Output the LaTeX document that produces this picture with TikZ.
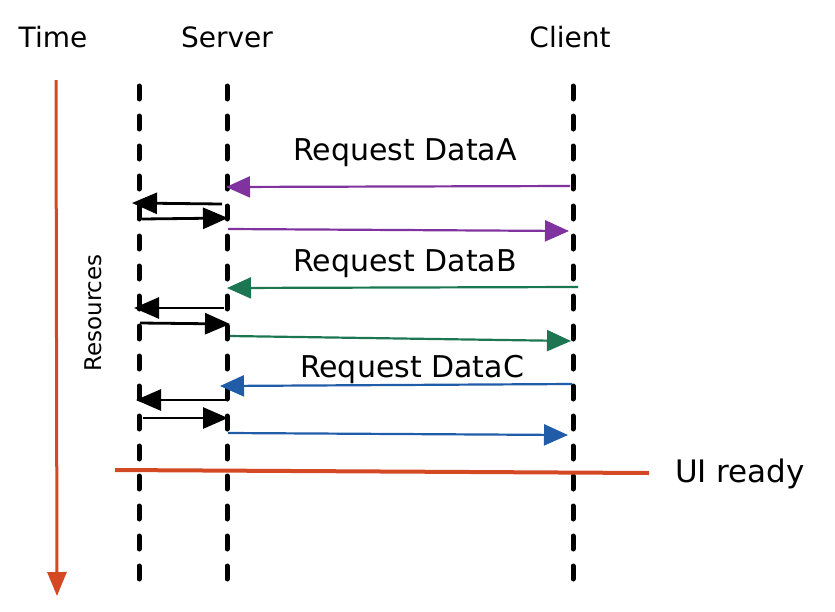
\documentclass[tikz,border=0pt]{standalone}
\usepackage{fontspec}
\setmainfont{DejaVu Sans}
\usetikzlibrary{arrows.meta}
\definecolor{cpurple}{RGB}{128,50,158}
\definecolor{cgreen}{RGB}{28,118,82}
\definecolor{cblue}{RGB}{32,92,168}
\definecolor{cred}{RGB}{212,72,36}
\tikzset{
  lbl/.style={font=\fontsize{28}{32}\selectfont, inner sep=0pt},
  rlbl/.style={font=\fontsize{30}{34}\selectfont, inner sep=0pt},
  life/.style={line width=5pt, line cap=round, dash pattern=on 13pt off 17pt},
  msg/.style={line width=2.2pt, -{Triangle[length=24pt,width=21pt]}},
  res/.style={line width=2.8pt, black, -{Triangle[length=25pt,width=21pt]}},
}
\begin{document}
\begin{tikzpicture}[x=1pt,y=-1pt]
\useasboundingbox (0,0) rectangle (835,611);
% labels
\node[lbl] (time) at (53,37) {Time};
\node[lbl] (server) at (227,37) {Server};
\node[lbl] (client) at (570,37) {Client};
\node[lbl, font=\fontsize{31}{34}\selectfont] (ui) at (740,474) {UI ready};
\node[lbl, font=\fontsize{23}{26}\selectfont, rotate=90] (resources) at (93,313) {Resources};
\node[rlbl] (la) at (405,153) {Request DataA};
\node[rlbl] (lb) at (405,264) {Request DataB};
\node[rlbl] (lc) at (412,369) {Request DataC};
% lifelines
\coordinate (r0) at (139,86); \coordinate (r1) at (139,584);
\coordinate (s0) at (227,86); \coordinate (s1) at (227,580);
\coordinate (c0) at (573,86); \coordinate (c1) at (573,584);
\draw[life] (r0) -- (r1);
\draw[life] (s0) -- (s1);
\draw[life] (c0) -- (c1);
% time arrow
\coordinate (t0) at (56,80); \coordinate (t1) at (57,596);
\draw[cred, line width=3pt, -{Triangle[length=24pt,width=19pt]}] (t0) -- (t1);
% UI ready line
\coordinate (u0) at (115,470); \coordinate (u1) at (649,473);
\draw[cred, line width=4pt] (u0) -- (u1);
% A
\coordinate (a1) at (570,186); \coordinate (a2) at (226,187);
\coordinate (a3) at (222,204); \coordinate (a4) at (132,203);
\coordinate (a5) at (142,219); \coordinate (a6) at (228,218);
\coordinate (a7) at (228,229); \coordinate (a8) at (569,231);
\draw[msg, cpurple] (a1) -- (a2);
\draw[res] (a3) -- (a4);
\draw[res] (a5) -- (a6);
\draw[msg, cpurple] (a7) -- (a8);
% B
\coordinate (b1) at (578,287); \coordinate (b2) at (227,288);
\coordinate (b3) at (224,308); \coordinate (b4) at (134,308);
\coordinate (b5) at (140,323); \coordinate (b6) at (230,324);
\coordinate (b7) at (230,336); \coordinate (b8) at (571,341);
\draw[msg, cgreen] (b1) -- (b2);
\draw[res] (b3) -- (b4);
\draw[res] (b5) -- (b6);
\draw[msg, cgreen] (b7) -- (b8);
% C
\coordinate (c2a) at (572,384); \coordinate (c2b) at (220,386);
\coordinate (c3) at (226,400); \coordinate (c4) at (136,400);
\coordinate (c5) at (143,418); \coordinate (c6) at (228,418);
\coordinate (c7) at (228,433); \coordinate (c8) at (568,435);
\draw[msg, cblue] (c2a) -- (c2b);
\draw[res] (c3) -- (c4);
\draw[res] (c5) -- (c6);
\draw[msg, cblue] (c7) -- (c8);
\end{tikzpicture}
\end{document}
